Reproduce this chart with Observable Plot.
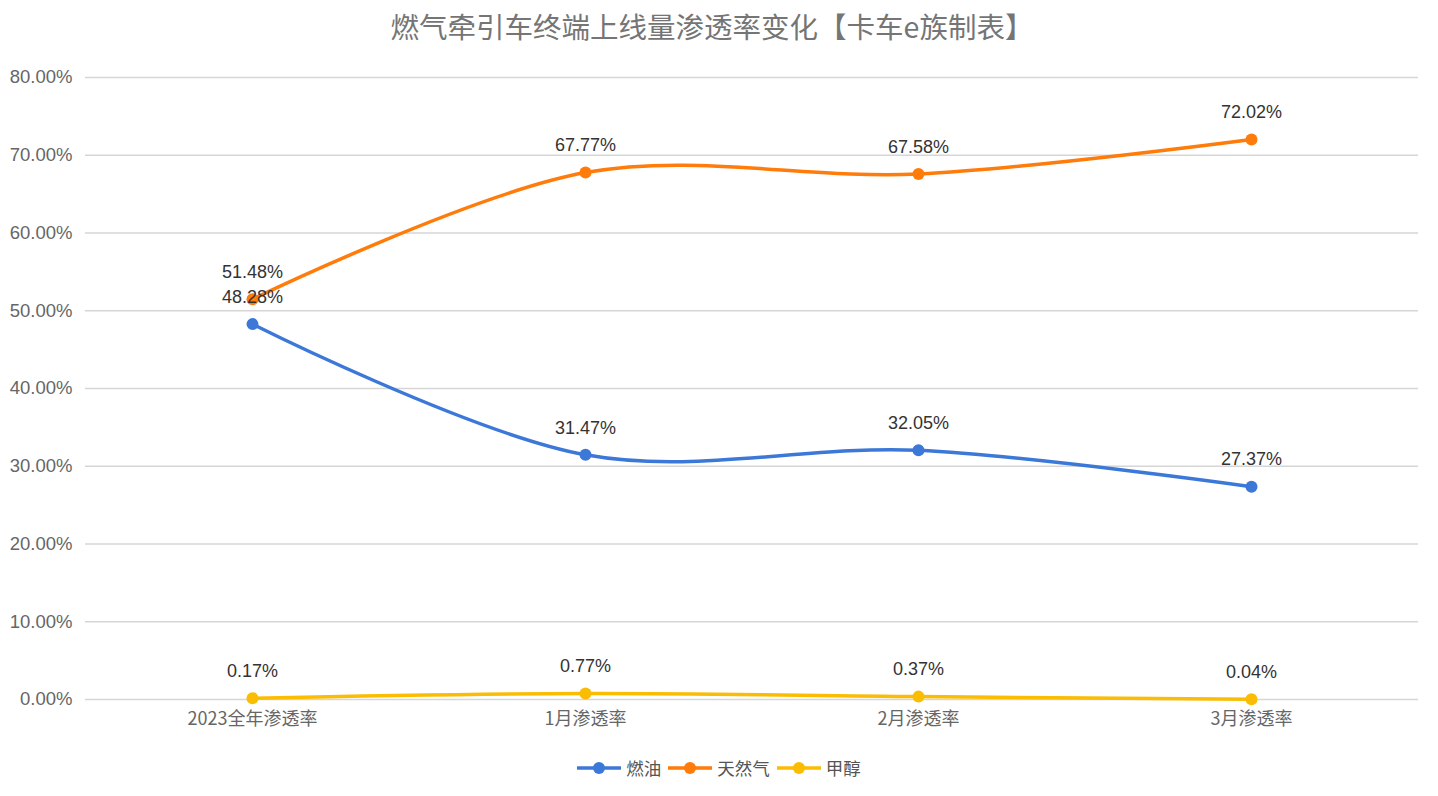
<!DOCTYPE html>
<html>
<head>
<meta charset="utf-8">
<script src="https://cdn.jsdelivr.net/npm/d3@7"></script>
<script src="https://cdn.jsdelivr.net/npm/@observablehq/plot@0.6"></script>
<style>
  body { margin: 0; background: #fff; font-family: "Liberation Sans", "Noto Sans CJK SC", sans-serif; }
  #wrap { width: 1438px; }
  #title { height: 50px; line-height: 52px; text-align: center; font-size: 28.5px; color: #757575; font-family: "Noto Sans CJK SC", sans-serif; padding-right: 14px; }
  #legend { display: flex; justify-content: center; align-items: center; gap: 7px; margin-top: 5px; font-size: 17.5px; color: #555; font-family: "Noto Sans CJK SC", sans-serif; }
  .item { display: flex; align-items: center; gap: 5px; }
</style>
</head>
<body>
<div id="wrap">
  <div id="title">燃气牵引车终端上线量渗透率变化【卡车e族制表】</div>
  <div id="chart"></div>
  <div id="legend"></div>
</div>
<script>
const categories = ["2023全年渗透率", "1月渗透率", "2月渗透率", "3月渗透率"];
const seriesNames = ["燃油", "天然气", "甲醇"];
const fuelOil = [48.28, 31.47, 32.05, 27.37];
const naturalGas = [51.48, 67.77, 67.58, 72.02];
const methanol = [0.17, 0.77, 0.37, 0.04];
const colors = ["#3c78d8", "#ff7b0a", "#fbbc04"];
const yTicks = [0, 10, 20, 30, 40, 50, 60, 70, 80];

const valuesBySeries = [fuelOil, naturalGas, methanol];
const data = [];
seriesNames.forEach((s, i) => {
  categories.forEach((c, j) => data.push({ series: s, category: c, value: valuesBySeries[i][j] }));
});

const chart = Plot.plot({
  width: 1438,
  height: 700,
  marginLeft: 85,
  marginRight: 20,
  marginTop: 27,
  marginBottom: 51,
  style: { fontFamily: "'Liberation Sans', 'Noto Sans CJK SC', sans-serif", background: "#fff" },
  x: { type: "point", domain: categories, padding: 0.5, label: null },
  y: { domain: [0, 80], label: null },
  color: { domain: seriesNames, range: colors },
  marks: [
    Plot.ruleY(yTicks, { stroke: "#d6d6d6", strokeWidth: 1.5 }),
    Plot.axisY(yTicks, { tickSize: 0, tickPadding: 13, tickFormat: d => d.toFixed(2) + "%", fontSize: 18.5, fill: "#666", label: null }),
    Plot.axisX({ tickSize: 0, tickPadding: 13, fontSize: 18, fill: "#666", fontFamily: "'Noto Sans CJK SC', sans-serif", label: null }),
    Plot.line(data, { x: "category", y: "value", z: "series", stroke: "series", strokeWidth: 3.5, curve: "catmull-rom" }),
    Plot.dot(data, { x: "category", y: "value", fill: "series", r: 6 }),
    Plot.text(data, { x: "category", y: "value", text: d => d.value.toFixed(2) + "%", dy: -27, fontSize: 18, fill: "#333" })
  ]
});
document.getElementById("chart").appendChild(chart);

const legend = document.getElementById("legend");
seriesNames.forEach((s, i) => {
  const item = document.createElement("div");
  item.className = "item";
  item.innerHTML = `<svg width="44" height="14"><line x1="0" y1="7" x2="44" y2="7" stroke="${colors[i]}" stroke-width="3.5"/><circle cx="22" cy="7" r="6" fill="${colors[i]}"/></svg><span>${s}</span>`;
  legend.appendChild(item);
});
</script>
</body>
</html>
